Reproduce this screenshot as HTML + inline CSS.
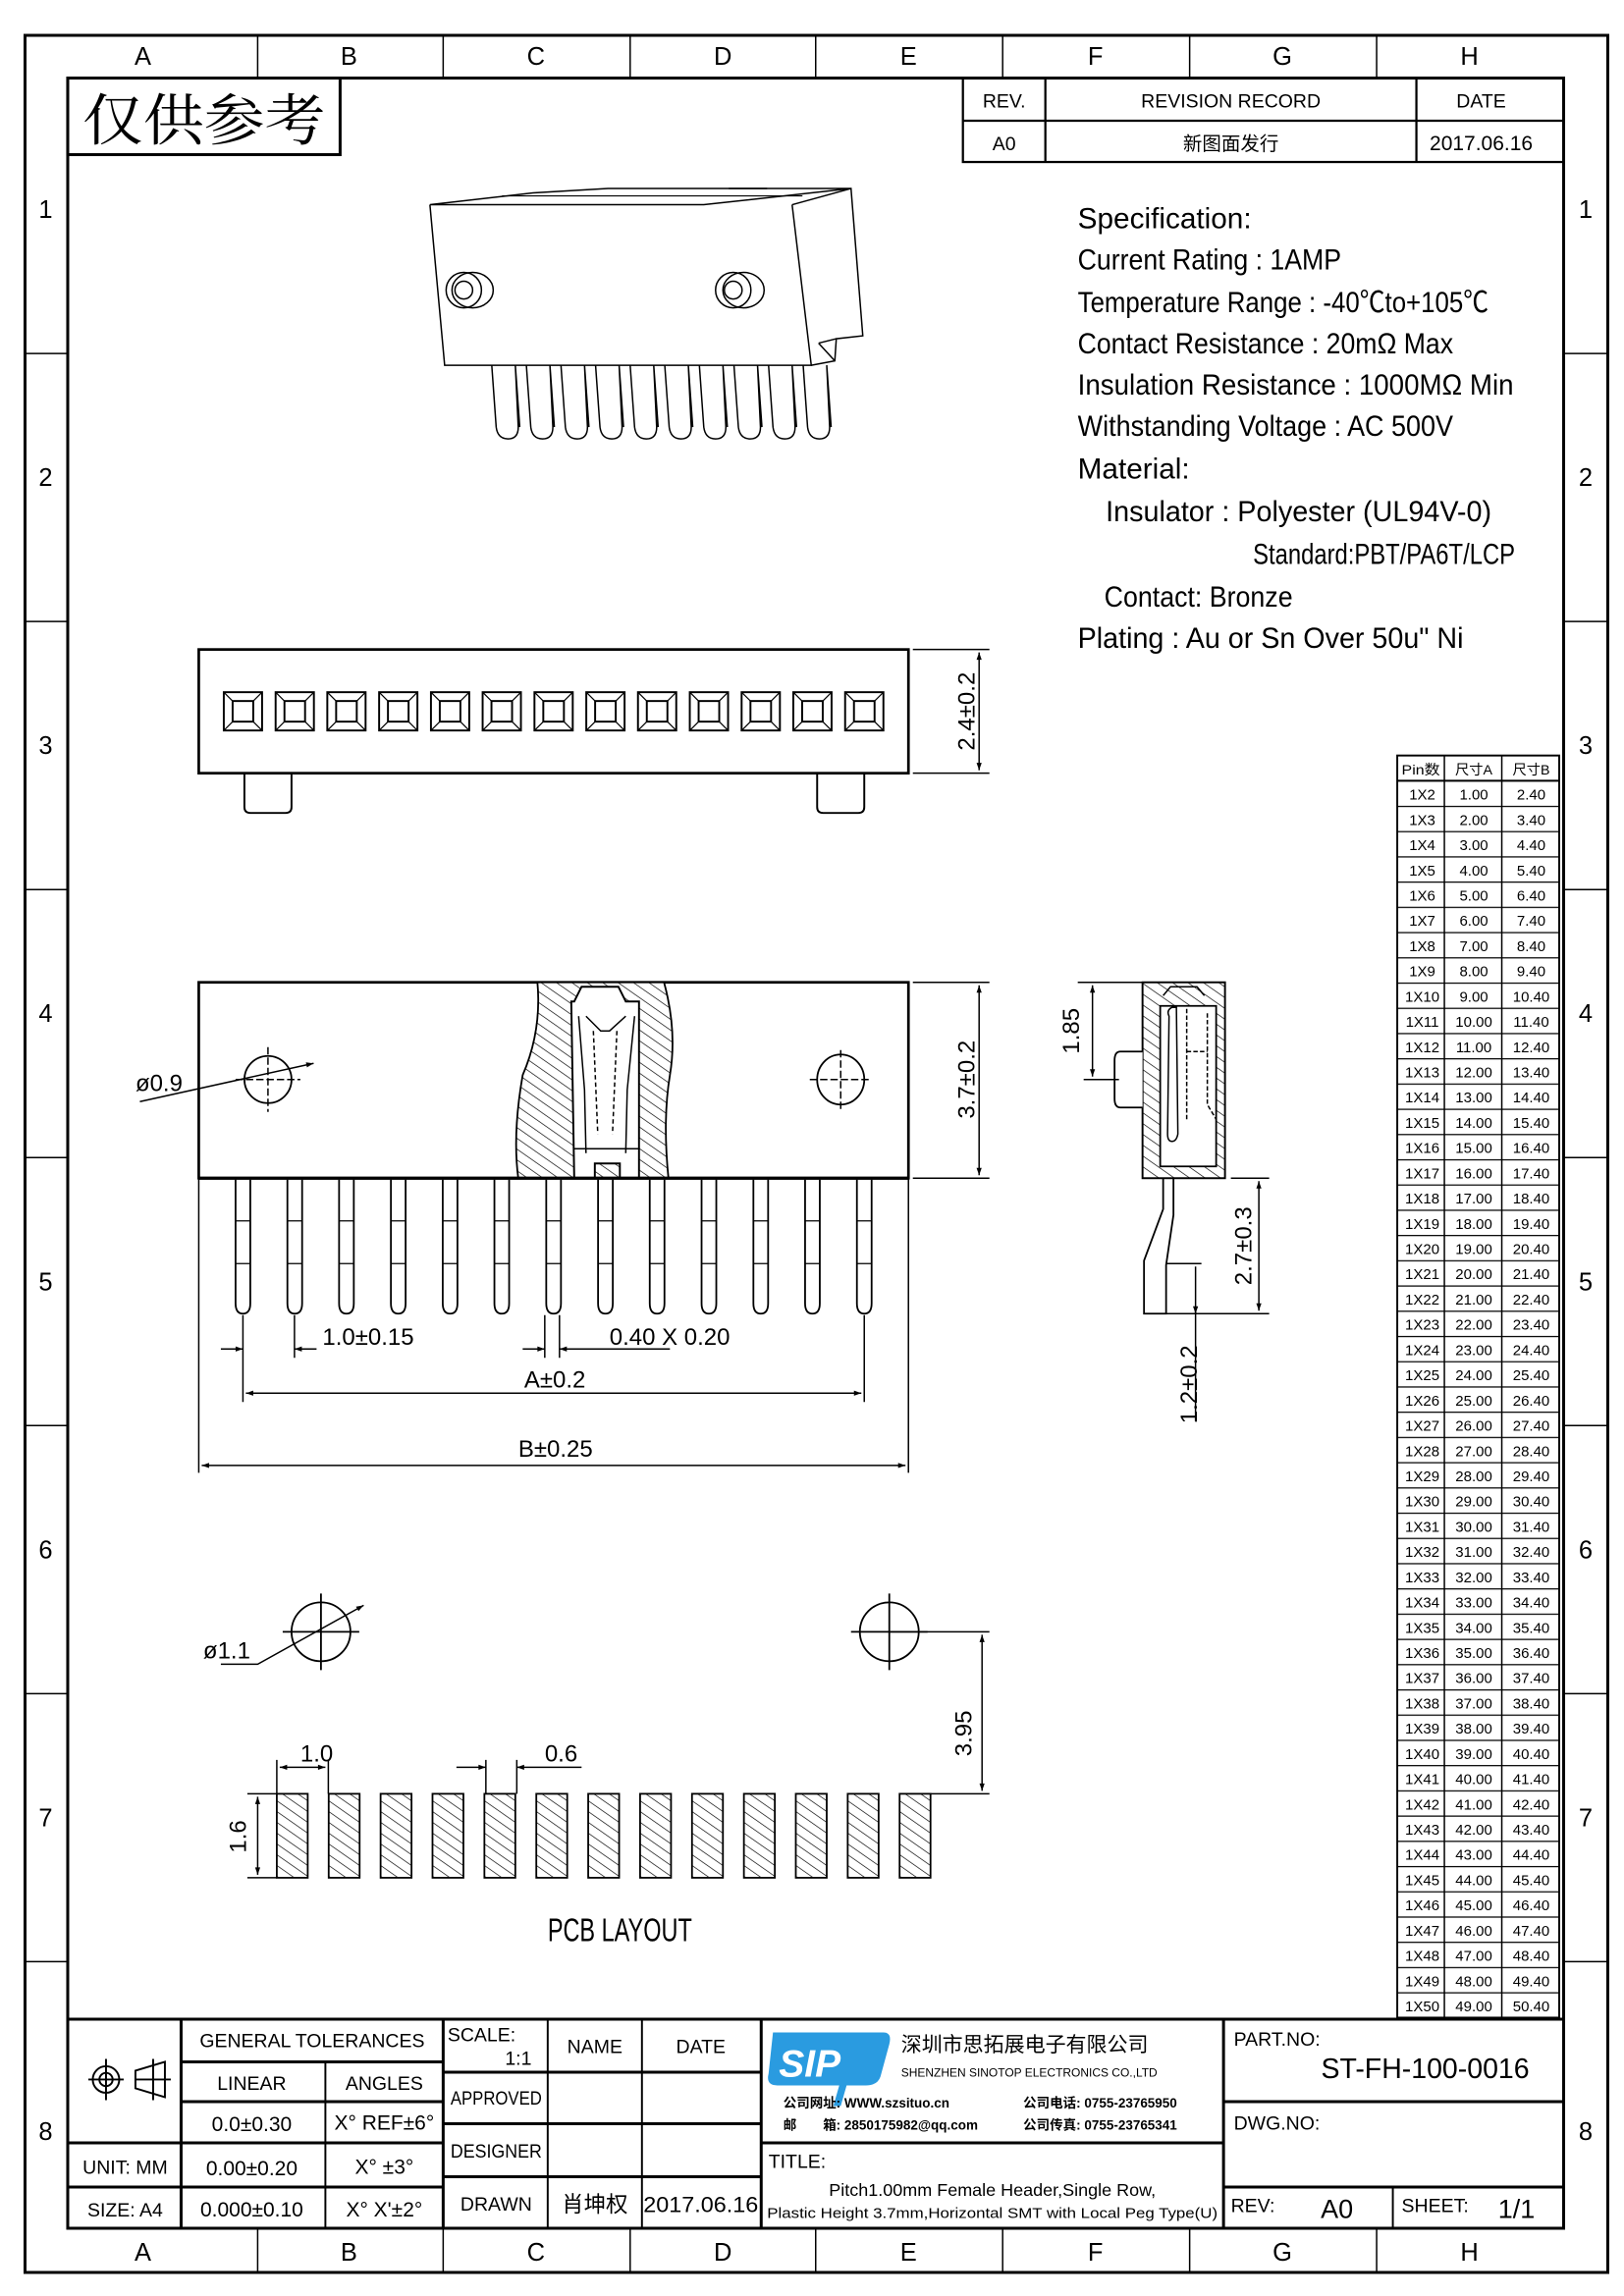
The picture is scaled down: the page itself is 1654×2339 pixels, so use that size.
<!DOCTYPE html>
<html><head><meta charset="utf-8"><style>
html,body{margin:0;padding:0;background:#fff}
svg{display:block}
text{font-family:"Liberation Sans Narrow","Liberation Sans","Noto Sans CJK SC",sans-serif;fill:#000}
.s{font-family:"Liberation Serif","Noto Serif CJK SC",serif}
</style></head><body>
<svg width="1654" height="2339" viewBox="0 0 1103 1559" preserveAspectRatio="none" xmlns="http://www.w3.org/2000/svg">
<defs>
<pattern id="h" patternUnits="userSpaceOnUse" width="6" height="6" patternTransform="rotate(-55)"><rect width="6" height="6" fill="#fff"/><line x1="0" y1="0" x2="0" y2="6" stroke="#000" stroke-width="0.9"/></pattern>
<pattern id="tl" patternUnits="userSpaceOnUse" x="0" y="530" width="200" height="17.14"><line x1="0" y1="0.4" x2="200" y2="0.4" stroke="#000" stroke-width="0.9"/></pattern>
<marker id="a" viewBox="0 0 10 10" refX="10" refY="5" markerWidth="9" markerHeight="5" orient="auto-start-reverse" markerUnits="userSpaceOnUse"><path d="M0,1.5 L10,5 L0,8.5z" fill="#000"/></marker>
</defs>
<g fill="none" stroke="#000">
<rect x="17" y="24" width="1075" height="1519" stroke-width="2"/>
<rect x="46" y="53" width="1016" height="1460" stroke-width="2"/>
<g stroke-width="1">
<path d="M175,24V53M301,24V53M428,24V53M554,24V53M681,24V53M808,24V53M935,24V53"/>
<path d="M175,1513V1543M301,1513V1543M428,1513V1543M554,1513V1543M681,1513V1543M808,1513V1543M935,1513V1543"/>
<path d="M17,240H46M17,422H46M17,604H46M17,786H46M17,968H46M17,1150H46M17,1332H46"/>
<path d="M1062,240H1092M1062,422H1092M1062,604H1092M1062,786H1092M1062,968H1092M1062,1150H1092M1062,1332H1092"/>
</g>
<rect x="46" y="53" width="185" height="52" stroke-width="2"/>
<rect x="654" y="53" width="408" height="57" stroke-width="1.5"/>
<path d="M654,82H1062M710,53V110M962,53V110" stroke-width="1.5"/>

<g stroke-width="1">
<path d="M292,139 L478,139 L578,128 L413,128 L362,131 L292,139z"/>
<path d="M292,139 L302,248 L551,248 L538,139"/>
<path d="M538,139 L578,128 L586,228 L568,230 L567,245 L551,248"/>
<path d="M556,233 L567,245 M568,230 L556,233"/>
<path d="M341,133 L545,133" stroke-width="0.7"/>
<ellipse cx="321" cy="197" rx="14" ry="12"/><ellipse cx="315" cy="197" rx="12" ry="12"/><circle cx="315" cy="197" r="6"/>
<ellipse cx="505" cy="197" rx="14" ry="12"/><ellipse cx="498" cy="197" rx="12" ry="12"/><circle cx="498" cy="197" r="6"/>
<path d="M495,128L521,128"/>
<g id="lp"><path d="M334,248 L337,290 Q338,298 345,298 Q352,298 352,290 L350,248 M350,248 L353,290"/></g>
<use href="#lp" x="23.5"/><use href="#lp" x="47"/><use href="#lp" x="70.5"/><use href="#lp" x="94"/><use href="#lp" x="117.5"/><use href="#lp" x="141"/><use href="#lp" x="164.5"/><use href="#lp" x="188"/><use href="#lp" x="211.5"/>
</g>

<rect x="135" y="441" width="482" height="84" stroke-width="1.8"/>
<g id="sq" stroke-width="1.3"><rect x="152" y="470" width="26" height="26"/><rect x="158" y="476" width="14" height="14"/><path d="M152,470L158,476M178,470L172,476M152,496L158,490M178,496L172,490" stroke-width="0.8"/></g>
<use href="#sq" x="35.2"/><use href="#sq" x="70.3"/><use href="#sq" x="105.5"/><use href="#sq" x="140.7"/><use href="#sq" x="175.8"/><use href="#sq" x="211"/><use href="#sq" x="246.2"/><use href="#sq" x="281.3"/><use href="#sq" x="316.5"/><use href="#sq" x="351.7"/><use href="#sq" x="386.8"/><use href="#sq" x="422"/>
<path d="M166,525V548Q166,552 170,552H194Q198,552 198,548V525" stroke-width="1.3"/>
<path d="M555,525V548Q555,552 559,552H583Q587,552 587,548V525" stroke-width="1.3"/>
<path d="M620,441H672M620,525H672" stroke-width="1"/>
<line x1="665" y1="443" x2="665" y2="523" stroke-width="1" marker-start="url(#a)" marker-end="url(#a)"/>

<rect x="135" y="667" width="482" height="133" stroke-width="1.8"/>
<path d="M365,667 Q368,700 355,730 Q348,770 352,800 L454,800 Q450,760 455,730 Q460,700 451,667z" fill="url(#h)" stroke-width="1.2"/>
<path d="M388,680 L390,680 L395,670 L420,670 L425,680 L434,680 L434,800 L421,800 L421,790 L404,790 L404,800 L390,800z" fill="#fff" stroke-width="1.3"/>
<path d="M393,690 L397,740 L398,783 M431,690 L426,740 L425,783 M398,690 L408,700 L414,700 L425,690" stroke-width="1"/>
<path d="M403,700 L406,770 M419,700 L416,770" stroke-width="1" stroke-dasharray="3,2"/>
<path d="M390,780H434" stroke-width="1"/>
<line x1="135" y1="800" x2="617" y2="800" stroke-width="2.2"/>
<circle cx="182" cy="733" r="16" stroke-width="1.2"/><path d="M160,733H204M182,711V755" stroke-width="1" stroke-dasharray="5,2"/>
<ellipse cx="571" cy="733" rx="16" ry="17" stroke-width="1.2"/><path d="M550,733H592M571,713V753" stroke-width="1" stroke-dasharray="5,2"/>
<path d="M95,748 L213,722" stroke-width="1" marker-end="url(#a)"/>
<g id="pn" stroke-width="1.2"><path d="M160,801V885Q160,892 165,892Q170,892 170,885V801"/><path d="M160,829H170M160,858H170" stroke-width="0.8"/></g>
<use href="#pn" x="35.2"/><use href="#pn" x="70.3"/><use href="#pn" x="105.5"/><use href="#pn" x="140.7"/><use href="#pn" x="175.8"/><use href="#pn" x="211"/><use href="#pn" x="246.2"/><use href="#pn" x="281.3"/><use href="#pn" x="316.5"/><use href="#pn" x="351.7"/><use href="#pn" x="386.8"/><use href="#pn" x="422"/>
<path d="M620,667H672M620,800H672" stroke-width="1"/>
<line x1="665" y1="669" x2="665" y2="798" stroke-width="1" marker-start="url(#a)" marker-end="url(#a)"/>
<g stroke-width="1">
<path d="M165,893V922M200,893V922M370,893V922M380,893V922M165,893V952M587,893V952M135,800V1000M617,800V1000"/>
<line x1="150" y1="916" x2="165" y2="916" marker-end="url(#a)"/><line x1="215" y1="916" x2="200" y2="916" marker-end="url(#a)"/>
<line x1="355" y1="916" x2="370" y2="916" marker-end="url(#a)"/><line x1="455" y1="916" x2="380" y2="916" marker-end="url(#a)"/>
<line x1="167" y1="946" x2="585" y2="946" marker-start="url(#a)" marker-end="url(#a)"/>
<line x1="137" y1="995" x2="615" y2="995" marker-start="url(#a)" marker-end="url(#a)"/>
</g>

<rect x="776" y="667" width="56" height="133" fill="url(#h)" stroke-width="1.3"/>
<path d="M788,683 L826,683 L826,792 L788,792z" fill="#fff" stroke-width="1.2"/>
<path d="M790,676 L795,670 L813,670 L818,676" stroke-width="1"/>
<path d="M794,690 Q792,686 796,684 L799,684 L800,770 Q799,775 796,775 Q793,775 793,770z" stroke-width="1"/>
<path d="M806,685 L806,760 M806,714 H820 M820,688 V750 L826,760" stroke-width="1" stroke-dasharray="3,1.5"/>
<path d="M776,714 H761 Q757,714 757,720 V746 Q757,752 761,752 H776" fill="#fff" stroke-width="1.2"/>
<path d="M790,800 L790,821 L777,856 L777,892 L792,892 L792,859 L797,825 L797,800" stroke-width="1.2"/>
<g stroke-width="1">
<path d="M732,667H776M736,733H760M836,800H862M777,892H862M792,858H816"/>
<line x1="742" y1="669" x2="742" y2="731" marker-start="url(#a)" marker-end="url(#a)"/>
<line x1="855" y1="802" x2="855" y2="890" marker-start="url(#a)" marker-end="url(#a)"/>
<line x1="812" y1="860" x2="812" y2="892" marker-end="url(#a)"/>
<line x1="812" y1="890" x2="812" y2="965"/>
</g>

<g stroke-width="1.2">
<circle cx="218" cy="1108" r="20"/><path d="M192,1108H244M218,1082V1134"/>
<circle cx="604" cy="1108" r="20"/><path d="M578,1108H630M604,1082V1134"/>
</g>
<path d="M150,1130 L175,1130 L247,1090" stroke-width="1" marker-end="url(#a)"/>
<g id="pd"><rect x="188" y="1218" width="21" height="57" fill="url(#h)" stroke-width="1.2"/></g>
<use href="#pd" x="35.25"/><use href="#pd" x="70.5"/><use href="#pd" x="105.75"/><use href="#pd" x="141"/><use href="#pd" x="176.25"/><use href="#pd" x="211.5"/><use href="#pd" x="246.75"/><use href="#pd" x="282"/><use href="#pd" x="317.25"/><use href="#pd" x="352.5"/><use href="#pd" x="387.75"/><use href="#pd" x="423"/>
<g stroke-width="1">
<path d="M188,1195V1218M223,1195V1218M330,1195V1218M351,1195V1218M168,1218H188M168,1275H188M604,1108H672M632,1218H672"/>
<line x1="190" y1="1200" x2="221" y2="1200" marker-start="url(#a)" marker-end="url(#a)"/>
<line x1="310" y1="1200" x2="330" y2="1200" marker-end="url(#a)"/><line x1="395" y1="1200" x2="351" y2="1200" marker-end="url(#a)"/>
<line x1="175" y1="1220" x2="175" y2="1273" marker-start="url(#a)" marker-end="url(#a)"/>
<line x1="667" y1="1110" x2="667" y2="1216" marker-start="url(#a)" marker-end="url(#a)"/>
</g>

<rect x="949" y="513" width="110" height="857" stroke-width="1.3"/>
<rect x="949" y="530" width="110" height="840" fill="url(#tl)" stroke="none"/>
<path d="M949,530H1059M981,513V1370M1020,513V1370" stroke-width="1"/>

<g stroke-width="2">
<path d="M46,1371H1062"/>
<path d="M123,1371V1513M301,1371V1513M517,1371V1513M831,1371V1513"/>
<path d="M123,1400H301M123,1427H301M46,1455H301M46,1485H301"/>
<path d="M301,1407H517M301,1442H517M301,1478H517M517,1455H831M831,1427H1062M831,1485H1062"/>
</g>
<path d="M221,1400V1513M372,1371V1513M436,1371V1513M946,1485V1513" stroke-width="1.3"/>
<g stroke-width="1.3"><circle cx="72" cy="1412" r="9"/><circle cx="72" cy="1412" r="4.5"/><path d="M60,1412H84M72,1398V1426"/>
<path d="M92,1406 L112,1400 L112,1424 L92,1418z M92,1412H116 M104,1398V1426"/></g>
</g>

<path d="M525,1380 H600 Q606,1380 604,1388 L598,1410 Q596,1416 588,1416 H575 L571,1430 L566,1430 L570,1416 H528 Q520,1416 522,1408z" fill="#2a9be0"/>
<text x="529" y="1410" font-size="26" font-style="italic" font-weight="bold" style="fill:#fff">SIP</text>

<g font-size="17" text-anchor="middle">
<text x="97" y="44">A</text><text x="237" y="44">B</text><text x="364" y="44">C</text><text x="491" y="44">D</text><text x="617" y="44">E</text><text x="744" y="44">F</text><text x="871" y="44">G</text><text x="998" y="44">H</text>
<text x="97" y="1535">A</text><text x="237" y="1535">B</text><text x="364" y="1535">C</text><text x="491" y="1535">D</text><text x="617" y="1535">E</text><text x="744" y="1535">F</text><text x="871" y="1535">G</text><text x="998" y="1535">H</text>
<text x="31" y="148">1</text><text x="31" y="330">2</text><text x="31" y="512">3</text><text x="31" y="694">4</text><text x="31" y="876">5</text><text x="31" y="1058">6</text><text x="31" y="1240">7</text><text x="31" y="1453">8</text>
<text x="1077" y="148">1</text><text x="1077" y="330">2</text><text x="1077" y="512">3</text><text x="1077" y="694">4</text><text x="1077" y="876">5</text><text x="1077" y="1058">6</text><text x="1077" y="1240">7</text><text x="1077" y="1453">8</text>
</g>
<text x="56" y="95" font-size="38" textLength="165" lengthAdjust="spacingAndGlyphs" class="s">仅供参考</text>
<g font-size="13" text-anchor="middle" class="s">
<text x="682" y="73">REV.</text><text x="836" y="73">REVISION RECORD</text><text x="1006" y="73">DATE</text>
<text x="682" y="102">A0</text><text x="836" y="102">新图面发行</text><text x="1006" y="102" font-size="14">2017.06.16</text>
</g>
<g font-size="20" class="s">
<text x="732" y="155" textLength="118" lengthAdjust="spacingAndGlyphs">Specification:</text>
<text x="732" y="183" textLength="179" lengthAdjust="spacingAndGlyphs">Current Rating : 1AMP</text>
<text x="732" y="212" textLength="279" lengthAdjust="spacingAndGlyphs">Temperature Range : -40℃to+105℃</text>
<text x="732" y="240" textLength="255" lengthAdjust="spacingAndGlyphs">Contact Resistance : 20mΩ Max</text>
<text x="732" y="268" textLength="296" lengthAdjust="spacingAndGlyphs">Insulation Resistance : 1000MΩ Min</text>
<text x="732" y="296" textLength="255" lengthAdjust="spacingAndGlyphs">Withstanding Voltage : AC 500V</text>
<text x="732" y="325" textLength="76" lengthAdjust="spacingAndGlyphs">Material:</text>
<text x="751" y="354" textLength="262" lengthAdjust="spacingAndGlyphs">Insulator : Polyester (UL94V-0)</text>
<text x="851" y="383" textLength="178" lengthAdjust="spacingAndGlyphs">Standard:PBT/PA6T/LCP</text>
<text x="750" y="412" textLength="128" lengthAdjust="spacingAndGlyphs">Contact: Bronze</text>
<text x="732" y="440" textLength="262" lengthAdjust="spacingAndGlyphs">Plating : Au or Sn Over 50u" Ni</text>
</g>
<g font-size="16" class="s">
<text transform="translate(662,483) rotate(-90)" text-anchor="middle">2.4±0.2</text>
<text transform="translate(662,733) rotate(-90)" text-anchor="middle">3.7±0.2</text>
<text transform="translate(733,700) rotate(-90)" text-anchor="middle">1.85</text>
<text transform="translate(850,846) rotate(-90)" text-anchor="middle">2.7±0.3</text>
<text transform="translate(813,940) rotate(-90)" text-anchor="middle">1.2±0.2</text>
<text transform="translate(660,1177) rotate(-90)" text-anchor="middle">3.95</text>
<text transform="translate(167,1247) rotate(-90)" text-anchor="middle">1.6</text>
<text x="92" y="741">ø0.9</text>
<text x="138" y="1126">ø1.1</text>
<text x="219" y="913">1.0±0.15</text>
<text x="414" y="913">0.40 X 0.20</text>
<text x="356" y="942">A±0.2</text>
<text x="352" y="989">B±0.25</text>
<text x="204" y="1196">1.0</text>
<text x="370" y="1196">0.6</text>
<text x="372" y="1318" font-size="22" textLength="98" lengthAdjust="spacingAndGlyphs">PCB LAYOUT</text>
</g>
<g font-size="10" text-anchor="middle" class="s" transform="matrix(1,0,0,0.99651,0,4.88)">
<text x="965" y="523" font-size="9.5" textLength="26" lengthAdjust="spacingAndGlyphs">Pin数</text><text x="1001" y="523" font-size="9.5">尺寸A</text><text x="1040" y="523" font-size="9.5">尺寸B</text>
<g><text x="966" y="540">1X2</text><text x="966" y="557.2">1X3</text><text x="966" y="574.4">1X4</text><text x="966" y="591.6">1X5</text><text x="966" y="608.8">1X6</text><text x="966" y="626">1X7</text><text x="966" y="643.2">1X8</text><text x="966" y="660.4">1X9</text><text x="966" y="677.6">1X10</text><text x="966" y="694.8">1X11</text><text x="966" y="712">1X12</text><text x="966" y="729.2">1X13</text><text x="966" y="746.4">1X14</text><text x="966" y="763.6">1X15</text><text x="966" y="780.8">1X16</text><text x="966" y="798">1X17</text><text x="966" y="815.2">1X18</text><text x="966" y="832.4">1X19</text><text x="966" y="849.6">1X20</text><text x="966" y="866.8">1X21</text><text x="966" y="884">1X22</text><text x="966" y="901.2">1X23</text><text x="966" y="918.4">1X24</text><text x="966" y="935.6">1X25</text><text x="966" y="952.8">1X26</text><text x="966" y="970">1X27</text><text x="966" y="987.2">1X28</text><text x="966" y="1004.4">1X29</text><text x="966" y="1021.6">1X30</text><text x="966" y="1038.8">1X31</text><text x="966" y="1056">1X32</text><text x="966" y="1073.2">1X33</text><text x="966" y="1090.4">1X34</text><text x="966" y="1107.6">1X35</text><text x="966" y="1124.8">1X36</text><text x="966" y="1142">1X37</text><text x="966" y="1159.2">1X38</text><text x="966" y="1176.4">1X39</text><text x="966" y="1193.6">1X40</text><text x="966" y="1210.8">1X41</text><text x="966" y="1228">1X42</text><text x="966" y="1245.2">1X43</text><text x="966" y="1262.4">1X44</text><text x="966" y="1279.6">1X45</text><text x="966" y="1296.8">1X46</text><text x="966" y="1314">1X47</text><text x="966" y="1331.2">1X48</text><text x="966" y="1348.4">1X49</text><text x="966" y="1365.6">1X50</text></g>
<g><text x="1001" y="540">1.00</text><text x="1001" y="557.2">2.00</text><text x="1001" y="574.4">3.00</text><text x="1001" y="591.6">4.00</text><text x="1001" y="608.8">5.00</text><text x="1001" y="626">6.00</text><text x="1001" y="643.2">7.00</text><text x="1001" y="660.4">8.00</text><text x="1001" y="677.6">9.00</text><text x="1001" y="694.8">10.00</text><text x="1001" y="712">11.00</text><text x="1001" y="729.2">12.00</text><text x="1001" y="746.4">13.00</text><text x="1001" y="763.6">14.00</text><text x="1001" y="780.8">15.00</text><text x="1001" y="798">16.00</text><text x="1001" y="815.2">17.00</text><text x="1001" y="832.4">18.00</text><text x="1001" y="849.6">19.00</text><text x="1001" y="866.8">20.00</text><text x="1001" y="884">21.00</text><text x="1001" y="901.2">22.00</text><text x="1001" y="918.4">23.00</text><text x="1001" y="935.6">24.00</text><text x="1001" y="952.8">25.00</text><text x="1001" y="970">26.00</text><text x="1001" y="987.2">27.00</text><text x="1001" y="1004.4">28.00</text><text x="1001" y="1021.6">29.00</text><text x="1001" y="1038.8">30.00</text><text x="1001" y="1056">31.00</text><text x="1001" y="1073.2">32.00</text><text x="1001" y="1090.4">33.00</text><text x="1001" y="1107.6">34.00</text><text x="1001" y="1124.8">35.00</text><text x="1001" y="1142">36.00</text><text x="1001" y="1159.2">37.00</text><text x="1001" y="1176.4">38.00</text><text x="1001" y="1193.6">39.00</text><text x="1001" y="1210.8">40.00</text><text x="1001" y="1228">41.00</text><text x="1001" y="1245.2">42.00</text><text x="1001" y="1262.4">43.00</text><text x="1001" y="1279.6">44.00</text><text x="1001" y="1296.8">45.00</text><text x="1001" y="1314">46.00</text><text x="1001" y="1331.2">47.00</text><text x="1001" y="1348.4">48.00</text><text x="1001" y="1365.6">49.00</text></g>
<g><text x="1040" y="540">2.40</text><text x="1040" y="557.2">3.40</text><text x="1040" y="574.4">4.40</text><text x="1040" y="591.6">5.40</text><text x="1040" y="608.8">6.40</text><text x="1040" y="626">7.40</text><text x="1040" y="643.2">8.40</text><text x="1040" y="660.4">9.40</text><text x="1040" y="677.6">10.40</text><text x="1040" y="694.8">11.40</text><text x="1040" y="712">12.40</text><text x="1040" y="729.2">13.40</text><text x="1040" y="746.4">14.40</text><text x="1040" y="763.6">15.40</text><text x="1040" y="780.8">16.40</text><text x="1040" y="798">17.40</text><text x="1040" y="815.2">18.40</text><text x="1040" y="832.4">19.40</text><text x="1040" y="849.6">20.40</text><text x="1040" y="866.8">21.40</text><text x="1040" y="884">22.40</text><text x="1040" y="901.2">23.40</text><text x="1040" y="918.4">24.40</text><text x="1040" y="935.6">25.40</text><text x="1040" y="952.8">26.40</text><text x="1040" y="970">27.40</text><text x="1040" y="987.2">28.40</text><text x="1040" y="1004.4">29.40</text><text x="1040" y="1021.6">30.40</text><text x="1040" y="1038.8">31.40</text><text x="1040" y="1056">32.40</text><text x="1040" y="1073.2">33.40</text><text x="1040" y="1090.4">34.40</text><text x="1040" y="1107.6">35.40</text><text x="1040" y="1124.8">36.40</text><text x="1040" y="1142">37.40</text><text x="1040" y="1159.2">38.40</text><text x="1040" y="1176.4">39.40</text><text x="1040" y="1193.6">40.40</text><text x="1040" y="1210.8">41.40</text><text x="1040" y="1228">42.40</text><text x="1040" y="1245.2">43.40</text><text x="1040" y="1262.4">44.40</text><text x="1040" y="1279.6">45.40</text><text x="1040" y="1296.8">46.40</text><text x="1040" y="1314">47.40</text><text x="1040" y="1331.2">48.40</text><text x="1040" y="1348.4">49.40</text><text x="1040" y="1365.6">50.40</text></g>
</g>
<g font-size="13" class="s">
<text x="212" y="1390" text-anchor="middle">GENERAL TOLERANCES</text>
<text x="171" y="1419" text-anchor="middle">LINEAR</text><text x="261" y="1419" text-anchor="middle">ANGLES</text>
<text x="171" y="1447" text-anchor="middle" font-size="14">0.0±0.30</text><text x="261" y="1446" text-anchor="middle" font-size="14">X° REF±6°</text>
<text x="85" y="1476" text-anchor="middle">UNIT: MM</text><text x="171" y="1477" text-anchor="middle" font-size="14">0.00±0.20</text><text x="261" y="1476" text-anchor="middle" font-size="14">X° ±3°</text>
<text x="85" y="1505" text-anchor="middle">SIZE: A4</text><text x="171" y="1505" text-anchor="middle" font-size="14">0.000±0.10</text><text x="261" y="1505" text-anchor="middle" font-size="14">X° X'±2°</text>
<text x="304" y="1386">SCALE:</text><text x="343" y="1402">1:1</text>
<text x="404" y="1394" text-anchor="middle">NAME</text><text x="476" y="1394" text-anchor="middle">DATE</text>
<text x="337" y="1429" text-anchor="middle" textLength="62" lengthAdjust="spacingAndGlyphs">APPROVED</text>
<text x="337" y="1465" text-anchor="middle" textLength="62" lengthAdjust="spacingAndGlyphs">DESIGNER</text>
<text x="337" y="1501" text-anchor="middle">DRAWN</text>
<text x="404" y="1502" text-anchor="middle" font-size="15">肖坤权</text>
<text x="476" y="1502" text-anchor="middle" font-size="15" textLength="78" lengthAdjust="spacingAndGlyphs">2017.06.16</text>
<text x="612" y="1393" font-size="14">深圳市思拓展电子有限公司</text>
<text x="612" y="1410" font-size="8">SHENZHEN SINOTOP ELECTRONICS CO.,LTD</text>
<text x="532" y="1431" font-size="9" font-weight="bold">公司网址: WWW.szsituo.cn</text>
<text x="532" y="1446" font-size="9" font-weight="bold">邮　　箱: 2850175982@qq.com</text>
<text x="695" y="1431" font-size="9" font-weight="bold">公司电话: 0755-23765950</text>
<text x="695" y="1446" font-size="9" font-weight="bold">公司传真: 0755-23765341</text>
<text x="522" y="1472">TITLE:</text>
<text x="674" y="1491" text-anchor="middle" font-size="12">Pitch1.00mm Female Header,Single Row,</text>
<text x="674" y="1506" text-anchor="middle" font-size="10" textLength="306" lengthAdjust="spacingAndGlyphs">Plastic Height 3.7mm,Horizontal SMT with Local Peg Type(U)</text>
<text x="838" y="1389">PART.NO:</text>
<text x="968" y="1411" text-anchor="middle" font-size="19">ST-FH-100-0016</text>
<text x="838" y="1446">DWG.NO:</text>
<text x="836" y="1502">REV:</text><text x="908" y="1506" text-anchor="middle" font-size="18">A0</text>
<text x="952" y="1502">SHEET:</text><text x="1030" y="1506" text-anchor="middle" font-size="18">1/1</text>
</g>
</svg>
</body></html>
